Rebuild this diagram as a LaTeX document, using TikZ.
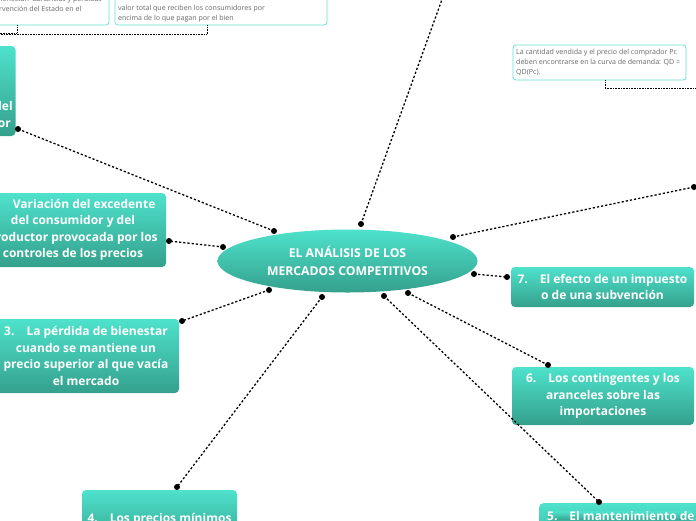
\documentclass[tikz,border=0pt]{standalone}
\usepackage{fontspec}
\setmainfont{Open Sans}
\usetikzlibrary{shapes.geometric}
\definecolor{tealtop}{RGB}{78,226,204}
\definecolor{tealbot}{RGB}{52,160,140}
\definecolor{notebord}{RGB}{100,224,208}
\definecolor{notetext}{RGB}{105,105,105}
\begin{document}
\begin{tikzpicture}[x=1pt,y=-1pt,
  topic/.style={rectangle, rounded corners=4pt, top color=tealtop, bottom color=tealbot, text=white, font=\fontsize{12}{16.5}\selectfont\bfseries, align=center, inner sep=0pt},
  central/.style={ellipse, top color=tealtop, bottom color=tealbot, text=white, font=\fontsize{12.2}{18}\selectfont\bfseries, align=center, inner sep=0pt, minimum width=260pt, minimum height=63pt},
  link/.style={line width=1.3pt, dash pattern=on 2.2pt off 2pt},
  notebox/.style={rectangle, rounded corners=3pt, draw=notebord, line width=0.8pt, fill=white},
  notetxt/.style={text=notetext, font=\fontsize{7.05}{10}\selectfont, align=left, inner sep=0pt},
  notelink/.style={line width=0.9pt, dash pattern=on 1pt off 0.6pt},
  enddot/.style={circle, fill=black, inner sep=0pt, minimum size=6pt}
]
\useasboundingbox (0,0) rectangle (696,520);
\clip (0,0) rectangle (696,520);

% notes
\node[notebox, minimum width=129pt, minimum height=40pt] (n1) at (44.5,5) {};
\node[notetxt, anchor=east] (n1a) at (102,-0.5) {bienestar. Ganancias y pérdidas};
\node[notetxt, anchor=east] (n1b) at (81.5,9) {intervención del Estado en el};
\node[notebox, minimum width=212pt, minimum height=40pt] (n2) at (221,5) {};
\node[notetxt, anchor=west] (n2t) at (118,9) {\hspace{17pt}El excedente del consumidor es el beneficio o\\valor total que reciben los consumidores por\\encima de lo que pagan por el bien};
\node[notebox, minimum width=173pt, minimum height=35pt] (n3) at (599.5,62.5) {};
\node[notetxt, anchor=west] (n3t) at (516,62) {La cantidad vendida y el precio del comprador Pc\\deben encontrarse en la curva de demanda: QD =\\QD(Pc).};

\draw[notelink] (17,0 |- n1.south) |- (-5,33);
\draw[notelink] (207,0 |- n2.south) |- (-5,34.5);
\draw[notelink] (605,0 |- n3.south) |- (700,88.5);

% central
\node[central] (C) at (347.5,261) {EL ANÁLISIS DE LOS\\MERCADOS COMPETITIVOS};

% topics
\node[topic, minimum width=175pt, minimum height=90pt] (B1) at (-72,91) {1.\hspace{12pt}Evaluación de\\ganancias y pérdidas\\de la política\\económica: el excedente del\\consumidor y del productor};
\node[topic, minimum width=186pt, minimum height=74pt] (B2) at (73,230) {2.\hspace{12pt}Variación del excedente\\del consumidor y del\\productor provocada por los\\controles de los precios};
\node[topic, minimum width=186pt, minimum height=74pt] (B3) at (86,356) {3.\hspace{12pt}La pérdida de bienestar\\cuando se mantiene un\\precio superior al que vacía\\el mercado};
\node[topic, minimum width=155pt, minimum height=58pt] (B4) at (159.5,519) {4.\hspace{12pt}Los precios mínimos};
\node[topic, minimum width=170pt, minimum height=58pt, anchor=north west] (B5) at (539,503) {};
\node[topic, anchor=west] (B5t) at (547,516) {5.\hspace{12pt}El mantenimiento de};
\node[topic, minimum width=182pt, minimum height=58pt] (B6) at (603,396) {6.\hspace{12pt}Los contingentes y los\\aranceles sobre las\\importaciones};
\node[topic, minimum width=183pt, minimum height=40pt] (B7) at (602.5,287) {7.\hspace{12pt}El efecto de un impuesto\\o de una subvención};

% connector end points
\coordinate (e1) at (274,231); \coordinate (d1) at (18,129);
\coordinate (e2) at (223,247); \coordinate (d2) at (169,241);
\coordinate (e3) at (269,290); \coordinate (d3) at (182,321);
\coordinate (e4) at (322,297); \coordinate (d4) at (177,487);
\coordinate (e5) at (384,296); \coordinate (d5) at (599,502);
\coordinate (e6) at (408,293); \coordinate (d6) at (548,365);
\coordinate (e7) at (474,274); \coordinate (d7) at (507,277);
\coordinate (e8) at (453,237); \coordinate (d8) at (694,187);
\coordinate (e9) at (361,224); \coordinate (d9) at (449,-20);

\foreach \i in {1,...,9} {\draw[link] (e\i) -- (d\i);}
\foreach \i in {1,...,9} {\node[enddot] at (e\i) {};}
\foreach \i in {1,...,8} {\node[enddot] at (d\i) {};}
\end{tikzpicture}
\end{document}
